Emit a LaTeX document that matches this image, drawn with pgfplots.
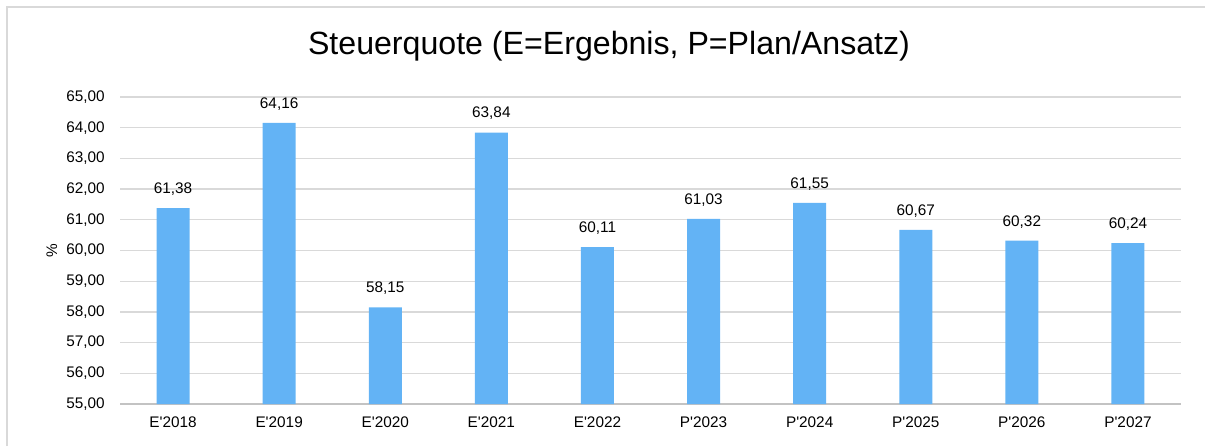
\documentclass[border=0pt]{standalone}
\usepackage{pgfplots}
\pgfplotsset{compat=1.18}
\usepackage{fontspec}
\setmainfont{Liberation Sans}
\definecolor{barblue}{RGB}{99,179,245}
\definecolor{gridgray}{RGB}{217,217,217}
\definecolor{framegray}{RGB}{217,217,217}
\newcommand{\q}{\textquotesingle}
\begin{document}
\begin{tikzpicture}
\useasboundingbox (0,0) rectangle (903.75pt,334.5pt);
\draw[framegray, line width=1.2pt] (5.25pt,0) -- (5.25pt,329.25pt) -- (903.75pt,329.25pt);
\node[font=\fontsize{24.1}{28}\selectfont] at (456.75pt,300pt) {Steuerquote (E=Ergebnis, P=Plan/Ansatz)};
\begin{axis}[
  at={(90pt,31.5pt)}, anchor=south west, scale only axis,
  width=795.75pt, height=230.25pt,
  ymin=55, ymax=65, xmin=-0.5, xmax=9.5,
  ytick={55,56,...,65},
  xtick={0,...,9},
  xticklabels={E\q2018,E\q2019,E\q2020,E\q2021,E\q2022,P\q2023,P\q2024,P\q2025,P\q2026,P\q2027},
  axis x line*=bottom, axis y line*=left,
  y axis line style={draw=none},
  x axis line style={draw=gridgray!90!black, line width=1pt},
  major tick length=0pt,
  ymajorgrids, grid style={gridgray, line width=0.9pt},
  tick label style={font=\fontsize{11.5}{13}\selectfont},
  yticklabel style={xshift=-8pt},
  xticklabel style={yshift=-6pt},
  /pgf/number format/.cd, use comma, fixed, fixed zerofill, precision=2, assume math mode=true,
  /pgfplots/.cd,
  ylabel={\%},
  ylabel style={font=\fontsize{11.5}{13}\selectfont},
  ybar, bar width=24.75pt,
  nodes near coords={\pgfmathprintnumber[fixed,fixed zerofill,precision=2,use comma,assume math mode=true]{\pgfplotspointmeta}},
  nodes near coords style={font=\fontsize{11.5}{13}\selectfont, yshift=6pt, text=black},
]
\addplot[fill=barblue, draw=none] coordinates {
 (0,61.38) (1,64.16) (2,58.15) (3,63.84) (4,60.11)
 (5,61.03) (6,61.55) (7,60.67) (8,60.32) (9,60.24)
};
\end{axis}
\end{tikzpicture}
\end{document}
